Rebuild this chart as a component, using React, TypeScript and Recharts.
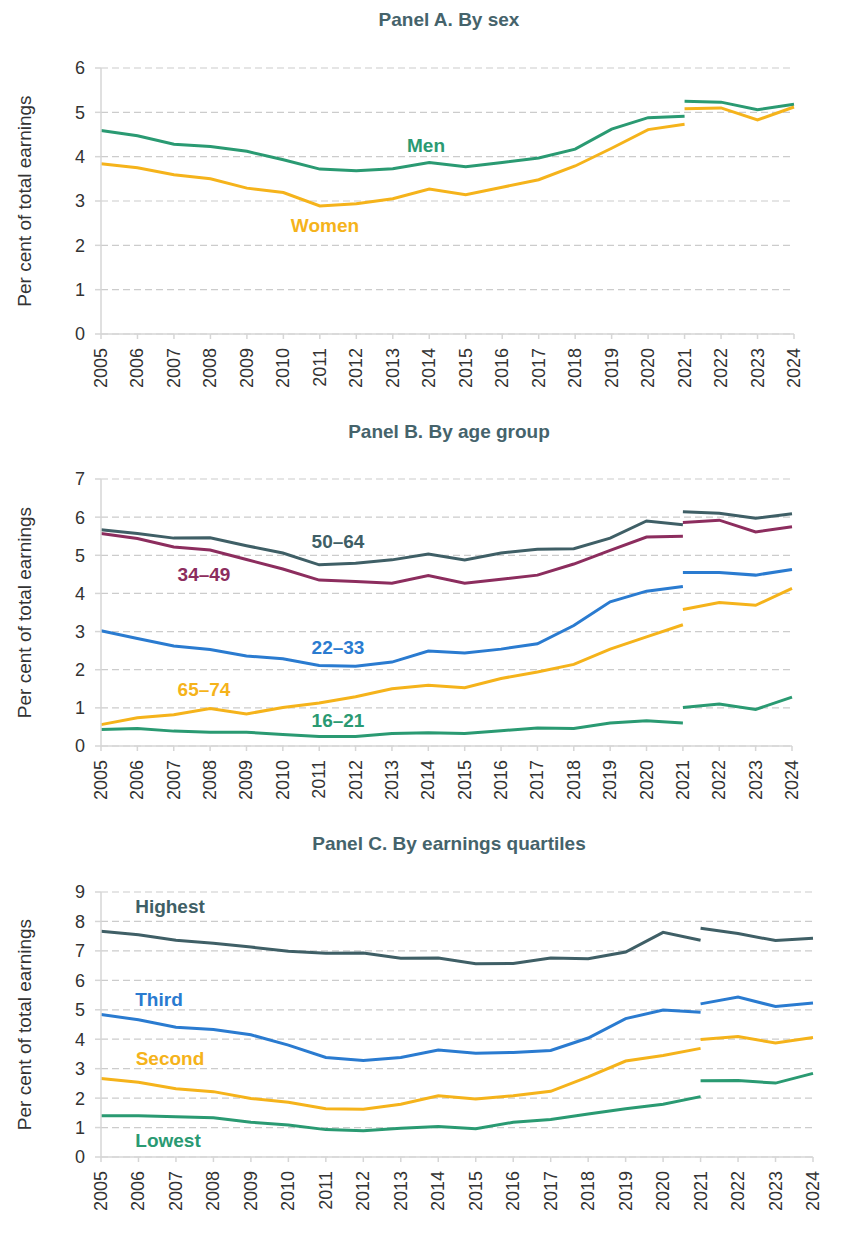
import React from 'react';
import { LineChart, Line, XAxis, YAxis, CartesianGrid } from 'recharts';

const years = ['2005','2006','2007','2008','2009','2010','2011','2012','2013','2014','2015','2016','2017','2018','2019','2020','2021','2022','2023','2024'];

// Old series: 2005-2021 ; New series: 2021-2024
const menOld = [4.59,4.47,4.28,4.23,4.12,3.93,3.72,3.68,3.73,3.87,3.77,3.87,3.97,4.17,4.62,4.88,4.91];
const menNew = [5.25,5.23,5.06,5.18];
const womenOld = [3.84,3.75,3.59,3.50,3.29,3.19,2.89,2.94,3.05,3.27,3.14,3.31,3.48,3.79,4.19,4.61,4.73];
const womenNew = [5.08,5.10,4.83,5.12];

const age5064Old = [5.67,5.57,5.45,5.46,5.25,5.06,4.75,4.79,4.88,5.03,4.88,5.06,5.16,5.17,5.45,5.90,5.80];
const age5064New = [6.14,6.10,5.97,6.09];
const age3449Old = [5.57,5.44,5.22,5.14,4.89,4.64,4.35,4.31,4.27,4.47,4.27,4.37,4.48,4.77,5.13,5.48,5.50];
const age3449New = [5.86,5.92,5.61,5.75];
const age2233Old = [3.02,2.82,2.62,2.53,2.36,2.29,2.11,2.09,2.20,2.49,2.44,2.54,2.68,3.16,3.78,4.06,4.18];
const age2233New = [4.55,4.55,4.48,4.63];
const age6574Old = [0.56,0.74,0.82,0.98,0.84,1.01,1.13,1.29,1.50,1.59,1.53,1.77,1.94,2.14,2.54,2.86,3.18];
const age6574New = [3.58,3.76,3.69,4.13];
const age1621Old = [0.43,0.46,0.39,0.36,0.36,0.30,0.25,0.25,0.33,0.35,0.33,0.40,0.47,0.46,0.60,0.66,0.60];
const age1621New = [1.01,1.10,0.96,1.28];

const highestOld = [7.67,7.55,7.36,7.26,7.13,6.99,6.92,6.93,6.75,6.76,6.56,6.57,6.76,6.73,6.96,7.63,7.36];
const highestNew = [7.77,7.59,7.35,7.43];
const thirdOld = [4.84,4.66,4.41,4.33,4.15,3.80,3.38,3.28,3.38,3.63,3.52,3.55,3.62,4.04,4.70,4.99,4.92];
const thirdNew = [5.20,5.43,5.11,5.23];
const secondOld = [2.67,2.54,2.32,2.22,1.99,1.86,1.64,1.62,1.79,2.08,1.97,2.08,2.23,2.72,3.26,3.45,3.69];
const secondNew = [3.99,4.09,3.87,4.06];
const lowestOld = [1.40,1.40,1.37,1.33,1.18,1.09,0.93,0.89,0.98,1.04,0.96,1.18,1.27,1.46,1.64,1.79,2.05];
const lowestNew = [2.59,2.60,2.51,2.84];

const ticksA = [0,1,2,3,4,5,6];
const ticksB = [0,1,2,3,4,5,6,7];
const ticksC = [0,1,2,3,4,5,6,7,8,9];

const GREEN = '#2a9a72';
const YELLOW = '#f5b31b';
const SLATE = '#3f5f66';
const MAROON = '#8c2d5e';
const BLUE = '#2a7bd0';
const TITLE = '#45636b';
const FONT = '"Liberation Sans", Arial, sans-serif';

type SeriesDef = { key: string; color: string; old: number[]; neu: number[] };

function buildRows(series: SeriesDef[]) {
  return years.map((y, i) => {
    const row: Record<string, any> = { year: y };
    series.forEach((s) => {
      row[s.key + 'Old'] = i < 17 ? s.old[i] : null;
      row[s.key + 'New'] = i >= 16 ? s.neu[i - 16] : null;
    });
    return row;
  });
}

const XTick = (props: any) => {
  const { x, y, payload } = props;
  return (
    <text x={x} y={y} transform={`rotate(-90, ${x}, ${y})`} textAnchor="end" dominantBaseline="central"
      fontSize={18} fill="#333" fontFamily={FONT}>{payload.value}</text>
  );
};

type PanelProps = {
  top: number; height: number; margin: { top: number; right: number; bottom: number; left: number };
  series: SeriesDef[]; ticks: number[];
};

function Panel({ top, height, margin, series, ticks }: PanelProps) {
  const data = buildRows(series);
  return (
    <div style={{ position: 'absolute', left: 0, top, width: 848, height }}>
      <LineChart width={848} height={height} data={data} margin={margin}>
        <CartesianGrid vertical={false} stroke="#cccccc" strokeDasharray="7 4" strokeWidth={1.2} />
        <XAxis dataKey="year" interval={0} height={50} tickSize={5} tickMargin={9}
          stroke="#d6d6d6" strokeWidth={1.5} tick={<XTick />} />
        <YAxis width={101} domain={[ticks[0], ticks[ticks.length - 1]]} ticks={ticks} interval={0}
          tickSize={6} tickMargin={10} stroke="#d6d6d6" strokeWidth={1.5}
          tick={{ fontSize: 18, fill: '#333', fontFamily: FONT }}
          label={{ value: 'Per cent of total earnings', angle: -90, position: 'center', dx: -26,
            style: { fontSize: 19, fill: '#333', fontFamily: FONT } }} />
        {series.map((s) => (
          <Line key={s.key + 'Old'} dataKey={s.key + 'Old'} stroke={s.color} strokeWidth={3} dot={false}
            activeDot={false} type="linear" isAnimationActive={false} connectNulls={false} />
        ))}
        {series.map((s) => (
          <Line key={s.key + 'New'} dataKey={s.key + 'New'} stroke={s.color} strokeWidth={3} dot={false}
            activeDot={false} type="linear" isAnimationActive={false} connectNulls={false} />
        ))}
      </LineChart>
    </div>
  );
}

const Title = ({ text, y }: { text: string; y: number }) => (
  <div style={{ position: 'absolute', left: 449, top: y, transform: 'translate(-50%, -50%)', whiteSpace: 'nowrap',
    fontFamily: FONT, fontWeight: 'bold', fontSize: 19, color: TITLE }}>{text}</div>
);

const Tag = ({ text, x, y, color }: { text: string; x: number; y: number; color: string }) => (
  <div style={{ position: 'absolute', left: x, top: y, transform: 'translate(-50%, -50%)', whiteSpace: 'nowrap',
    fontFamily: FONT, fontWeight: 'bold', fontSize: 19, color, lineHeight: 1 }}>{text}</div>
);

export default function App() {
  const seriesA: SeriesDef[] = [
    { key: 'men', color: GREEN, old: menOld, neu: menNew },
    { key: 'women', color: YELLOW, old: womenOld, neu: womenNew },
  ];
  const seriesB: SeriesDef[] = [
    { key: 'a1621', color: GREEN, old: age1621Old, neu: age1621New },
    { key: 'a6574', color: YELLOW, old: age6574Old, neu: age6574New },
    { key: 'a2233', color: BLUE, old: age2233Old, neu: age2233New },
    { key: 'a3449', color: MAROON, old: age3449Old, neu: age3449New },
    { key: 'a5064', color: SLATE, old: age5064Old, neu: age5064New },
  ];
  const seriesC: SeriesDef[] = [
    { key: 'lowest', color: GREEN, old: lowestOld, neu: lowestNew },
    { key: 'second', color: YELLOW, old: secondOld, neu: secondNew },
    { key: 'third', color: BLUE, old: thirdOld, neu: thirdNew },
    { key: 'highest', color: SLATE, old: highestOld, neu: highestNew },
  ];
  return (
    <div style={{ position: 'absolute', left: 0, top: 0, width: 848, height: 1243, background: '#fff', fontFamily: FONT }}>
      <Panel top={0} height={400} margin={{ top: 68, right: 54, bottom: 16, left: 0 }} series={seriesA} ticks={ticksA} />
      <Panel top={410} height={400} margin={{ top: 69, right: 56, bottom: 14, left: 0 }} series={seriesB} ticks={ticksB} />
      <Panel top={830} height={413} margin={{ top: 62, right: 35, bottom: 36, left: 0 }} series={seriesC} ticks={ticksC} />

      <Title text="Panel A. By sex" y={20} />
      <Title text="Panel B. By age group" y={432} />
      <Title text="Panel C. By earnings quartiles" y={844} />

      <Tag text="Men" x={426} y={145} color={GREEN} />
      <Tag text="Women" x={325} y={225} color={YELLOW} />

      <Tag text="50–64" x={338} y={541} color={SLATE} />
      <Tag text="34–49" x={204} y={574} color={MAROON} />
      <Tag text="22–33" x={338} y={647} color={BLUE} />
      <Tag text="65–74" x={204} y={689} color={YELLOW} />
      <Tag text="16–21" x={338} y={720} color={GREEN} />

      <Tag text="Highest" x={170} y={906} color={SLATE} />
      <Tag text="Third" x={159} y={999} color={BLUE} />
      <Tag text="Second" x={170} y={1058} color={YELLOW} />
      <Tag text="Lowest" x={168} y={1140} color={GREEN} />
    </div>
  );
}
